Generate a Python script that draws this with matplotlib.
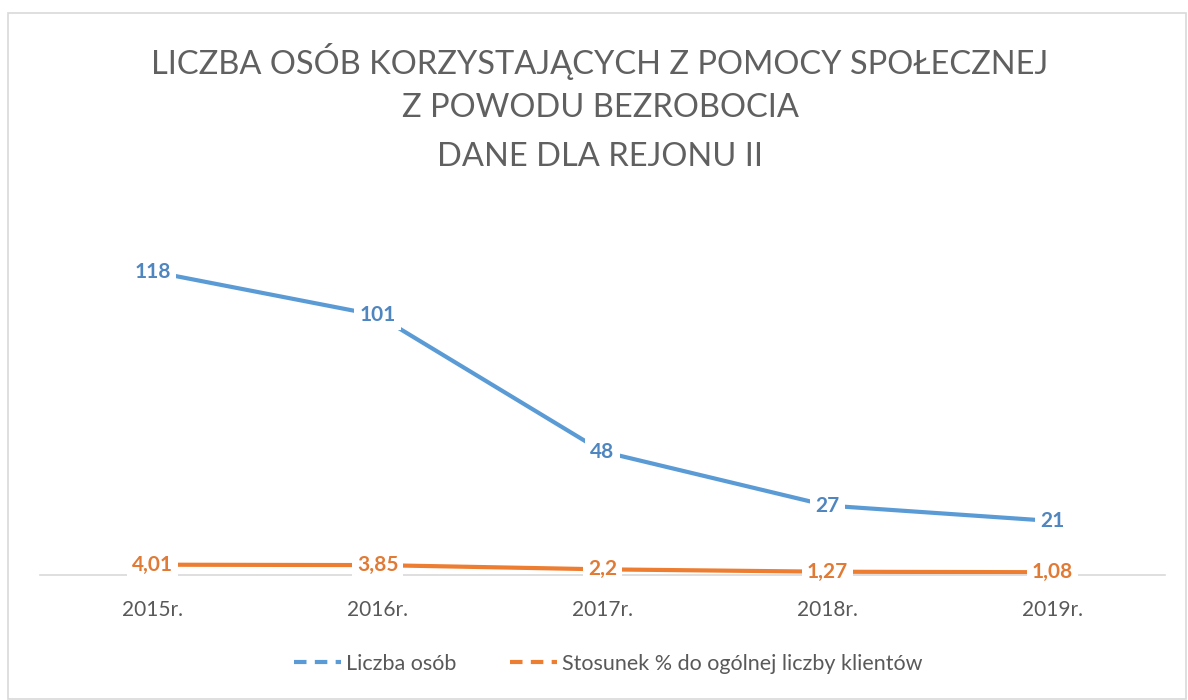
import matplotlib
matplotlib.use("Agg")
import matplotlib.pyplot as plt
from matplotlib.patches import Rectangle
from matplotlib.lines import Line2D

categories = ["2015r.", "2016r.", "2017r.", "2018r.", "2019r."]
liczba_osob = [118, 101, 48, 27, 21]
stosunek = [4.01, 3.85, 2.2, 1.27, 1.08]
stosunek_labels = ["4,01", "3,85", "2,2", "1,27", "1,08"]
title_lines = ["LICZBA OSÓB KORZYSTAJĄCYCH Z POMOCY SPOŁECZNEJ",
               "Z POWODU BEZROBOCIA", "DANE DLA REJONU II"]
series_names = ["Liczba osób", "Stosunek % do ogólnej liczby klientów"]

BLUE = "#5B9BD5"
BLUE_T = "#4F86C0"
ORANGE = "#ED7D31"
ORANGE_T = "#E07A35"
GREY = "#595959"
FONT = ["Lato", "DejaVu Sans"]

W, H = 1188, 700
fig = plt.figure(figsize=(W / 100, H / 100), dpi=100)

# chart area border
fig.patches.append(Rectangle((8 / W, 0.002), (W - 10) / W, (H - 13) / H - 0.002,
                             transform=fig.transFigure, fill=False,
                             edgecolor="#D9D9D9", linewidth=1.2))

left, right = 40, 1165
y0, ytop = 575, 215
ax = fig.add_axes([left / W, 1 - y0 / H, (right - left) / W, (y0 - ytop) / H])
ax.set_xlim(-0.5, len(categories) - 0.5)
ax.set_ylim(0, 140)
for s in ["top", "right", "left"]:
    ax.spines[s].set_visible(False)
ax.spines["bottom"].set_color("#D9D9D9")
ax.spines["bottom"].set_linewidth(1.2)
ax.set_yticks([])
x = list(range(len(categories)))
ax.set_xticks(x)
ax.set_xticklabels(categories, fontsize=15, color=GREY, family=FONT)
ax.tick_params(axis="x", length=0, pad=18)

ax.plot(x, liczba_osob, color=BLUE, linewidth=3, solid_capstyle="butt", zorder=2)
ax.plot(x, stosunek, color=ORANGE, linewidth=3, solid_capstyle="butt", zorder=2)

box = dict(boxstyle="square,pad=0.25", facecolor="white", edgecolor="none")
for xi, v in zip(x, liczba_osob):
    ax.text(xi, v, str(v), ha="center", va="center", fontsize=15,
            fontweight="bold", color=BLUE_T, family=FONT, bbox=box, zorder=3)
for xi, v, lab in zip(x, stosunek, stosunek_labels):
    ax.text(xi, v, lab, ha="center", va="center", fontsize=15,
            fontweight="bold", color=ORANGE_T, family=FONT, bbox=box, zorder=3)

# title
for i, (line, yy) in enumerate(zip(title_lines, [62, 108, 157])):
    fig.text(600 / W, 1 - yy / H, line, ha="center", va="center", fontsize=23.5,
             fontweight="normal", color="#606060", family=FONT)

handles = [Line2D([], [], color=BLUE, linewidth=3, linestyle=(0, (3, 2))),
           Line2D([], [], color=ORANGE, linewidth=3, linestyle=(0, (3, 2)))]
leg = fig.legend(handles, series_names, loc="center", bbox_to_anchor=(608 / W, 1 - 664 / H),
                 ncol=2, frameon=False, prop={"family": FONT, "size": 15.5},
                 handlelength=2.2, handletextpad=0.2, columnspacing=2.5)
for t in leg.get_texts():
    t.set_color(GREY)

fig.savefig("out.png", dpi=100)
